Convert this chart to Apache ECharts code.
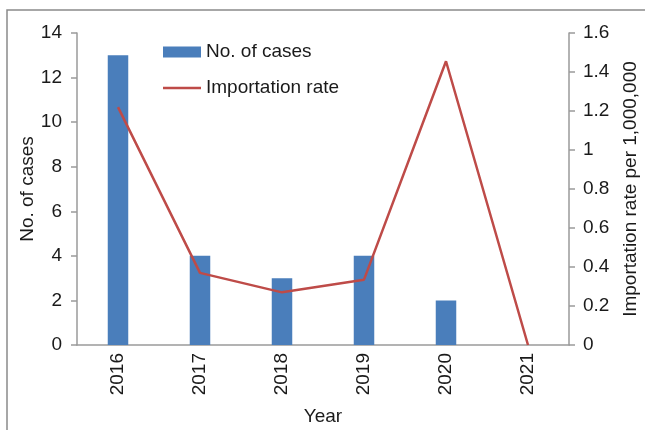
<!DOCTYPE html>
<html><head><meta charset="utf-8">
<script src="https://cdn.jsdelivr.net/npm/echarts@6/dist/echarts.min.js"></script>
<style>html,body{margin:0;padding:0;background:#fff}#c{width:645px;height:430px}</style>
</head><body><div id="c"></div>
<script>
var years = ['2016','2017','2018','2019','2020','2021'];
var cases = [13, 4, 3, 4, 2, 0];
var rates = [1.22, 0.37, 0.27, 0.335, 1.455, 0];
var leftTicks = {min: 0, max: 14, interval: 2};
var rightTicks = {min: 0, max: 1.6, interval: 0.2};

var font = 'Liberation Sans, Arial, sans-serif';
var txt = '#1a1a1a';
var axisCol = '#9a9a9a';
var fs = 19;
var chart = echarts.init(document.getElementById('c'), null, {renderer: 'canvas'});
chart.setOption({
  animation: false,
  textStyle: {fontFamily: font},
  graphic: [{
    type: 'rect', silent: true,
    shape: {x: 7, y: 10, width: 700, height: 500},
    style: {fill: 'none', stroke: '#8a8a8a', lineWidth: 1.5}
  }],
  grid: {left: 77, right: 76, top: 33, bottom: 85, containLabel: false, outerBoundsMode: 'none'},
  legend: {
    left: 158, top: 36, orient: 'vertical',
    itemWidth: 38, itemHeight: 11, itemGap: 14,
    textStyle: {fontSize: fs, color: txt, fontFamily: font, lineHeight: 22},
    data: [
      {name: 'No. of cases', icon: 'rect'},
      {name: 'Importation rate', icon: 'path://M0,0H38V2.6H0Z'}
    ]
  },
  xAxis: {
    type: 'category', data: years,
    name: 'Year', nameLocation: 'middle', nameGap: 62, nameMoveOverlap: false,
    nameTextStyle: {fontSize: fs, color: txt},
    axisLine: {lineStyle: {color: axisCol, width: 1.5}},
    axisTick: {show: false},
    axisLabel: {rotate: 90, fontSize: fs, color: txt, margin: 8}
  },
  yAxis: [{
    type: 'value', min: leftTicks.min, max: leftTicks.max, interval: leftTicks.interval,
    name: 'No. of cases', nameLocation: 'middle', nameGap: 40, nameRotate: 90, nameMoveOverlap: false,
    nameTextStyle: {fontSize: fs, color: txt},
    axisLine: {show: true, lineStyle: {color: axisCol, width: 1.5}},
    axisTick: {show: true, length: 6, lineStyle: {color: axisCol, width: 1.5}},
    axisLabel: {fontSize: fs, color: txt, margin: 15},
    splitLine: {show: false}
  }, {
    type: 'value', min: rightTicks.min, max: rightTicks.max, interval: rightTicks.interval,
    name: 'Importation rate per 1,000,000', nameLocation: 'middle', nameGap: 52, nameRotate: 90, nameMoveOverlap: false,
    nameTextStyle: {fontSize: fs, color: txt},
    axisLine: {show: true, lineStyle: {color: axisCol, width: 1.5}},
    axisTick: {show: true, length: 6, lineStyle: {color: axisCol, width: 1.5}},
    axisLabel: {fontSize: fs, color: txt, margin: 14, formatter: function(v){ return String(Math.round(v*10)/10); }},
    splitLine: {show: false}
  }],
  series: [{
    name: 'No. of cases', type: 'bar', data: cases, barWidth: '25%',
    itemStyle: {color: '#4a7ebb'}
  }, {
    name: 'Importation rate', type: 'line', yAxisIndex: 1, data: rates,
    symbol: 'none', lineStyle: {color: '#be4b48', width: 2.5}, itemStyle: {color: '#be4b48'}
  }]
});
</script></body></html>
